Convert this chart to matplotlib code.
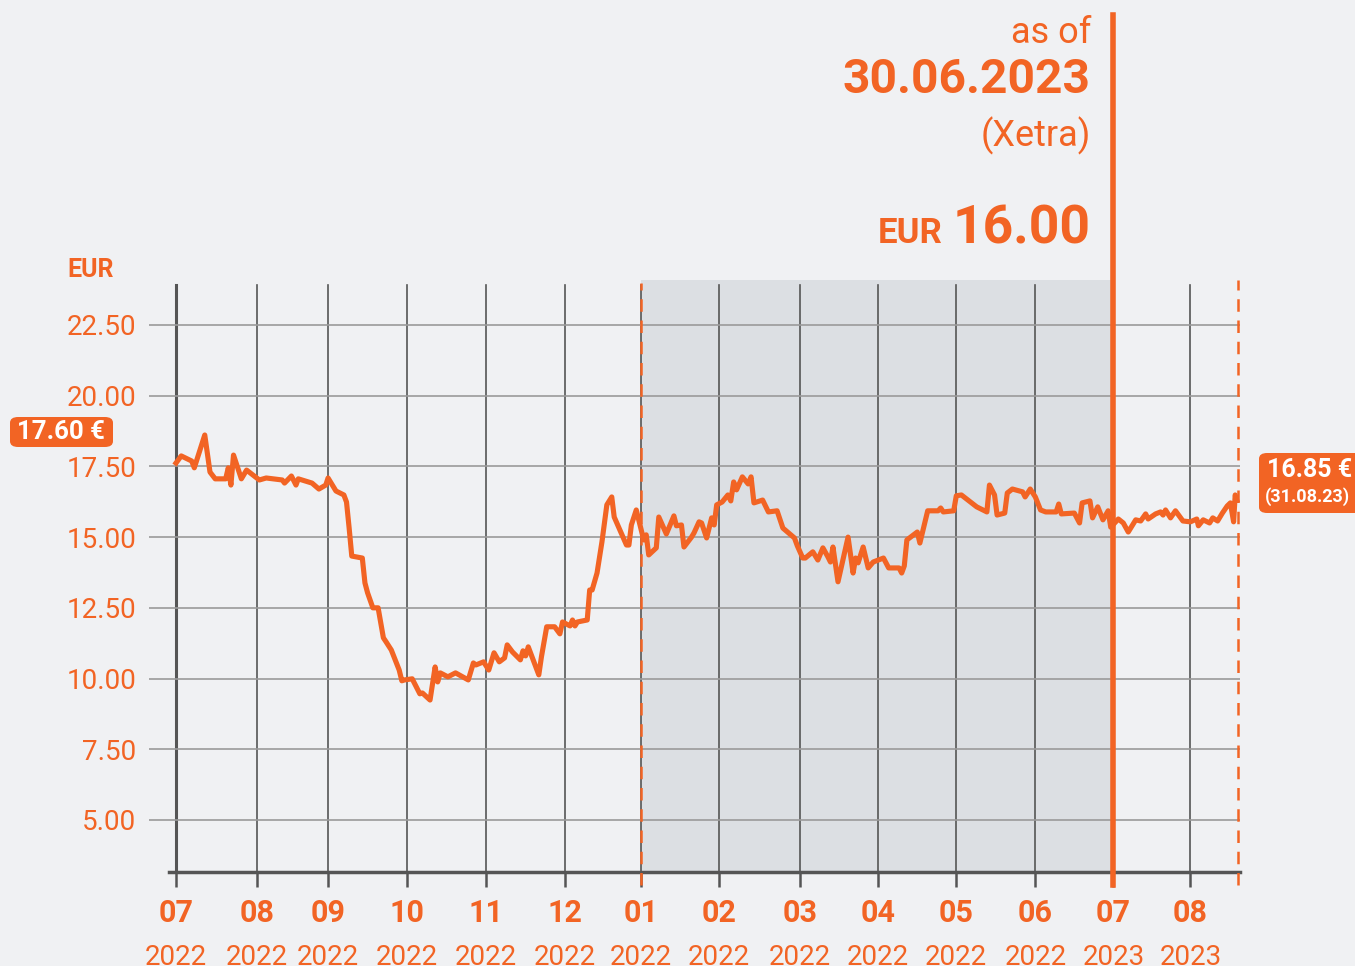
import matplotlib
matplotlib.use('Agg')
import matplotlib.pyplot as plt
import matplotlib.dates as mdates
from matplotlib.patches import FancyBboxPatch
import numpy as np
import pandas as pd

plt.rcParams['font.family'] = ['Roboto', 'DejaVu Sans']

ORANGE = '#f26424'
BG = '#f0f1f3'
SHADE = '#dcdfe3'
GRID_V = '#555555'
GRID_H = '#9a9a9a'

# price series (EUR)
dates = [
    '2022-07-01', '2022-07-03', '2022-07-07', '2022-07-08', '2022-07-12', '2022-07-14',
    '2022-07-16', '2022-07-20', '2022-07-21', '2022-07-22', '2022-07-23', '2022-07-26',
    '2022-07-28', '2022-08-02', '2022-08-05', '2022-08-12', '2022-08-13', '2022-08-16',
    '2022-08-18', '2022-08-19', '2022-08-25', '2022-08-28', '2022-08-31', '2022-09-01',
    '2022-09-04', '2022-09-07', '2022-09-08', '2022-09-09', '2022-09-10', '2022-09-14',
    '2022-09-15', '2022-09-16', '2022-09-18', '2022-09-20', '2022-09-22', '2022-09-23',
    '2022-09-25', '2022-09-28', '2022-09-29', '2022-09-30', '2022-10-03', '2022-10-06',
    '2022-10-07', '2022-10-10', '2022-10-12', '2022-10-13', '2022-10-14', '2022-10-17',
    '2022-10-20', '2022-10-25', '2022-10-27', '2022-10-28', '2022-10-31', '2022-11-02',
    '2022-11-04', '2022-11-06', '2022-11-08', '2022-11-09', '2022-11-11', '2022-11-14',
    '2022-11-15', '2022-11-16', '2022-11-17', '2022-11-21', '2022-11-22', '2022-11-24',
    '2022-11-27', '2022-11-29', '2022-11-30', '2022-12-03', '2022-12-04', '2022-12-05',
    '2022-12-06', '2022-12-10', '2022-12-11', '2022-12-12', '2022-12-14', '2022-12-16',
    '2022-12-18', '2022-12-20', '2022-12-21', '2022-12-26', '2022-12-27', '2022-12-28',
    '2022-12-30', '2023-01-02', '2023-01-03', '2023-01-04', '2023-01-07', '2023-01-08',
    '2023-01-11', '2023-01-14', '2023-01-15', '2023-01-17', '2023-01-18', '2023-01-21',
    '2023-01-22', '2023-01-24', '2023-01-25', '2023-01-27', '2023-01-29', '2023-01-30',
    '2023-01-31', '2023-02-02', '2023-02-04', '2023-02-05', '2023-02-06', '2023-02-07',
    '2023-02-09', '2023-02-11', '2023-02-12', '2023-02-13', '2023-02-16', '2023-02-18',
    '2023-02-21', '2023-02-23', '2023-02-27', '2023-02-28', '2023-03-02', '2023-03-03',
    '2023-03-06', '2023-03-08', '2023-03-10', '2023-03-12', '2023-03-13', '2023-03-14',
    '2023-03-16', '2023-03-20', '2023-03-22', '2023-03-23', '2023-03-24', '2023-03-26',
    '2023-03-28', '2023-03-30', '2023-04-03', '2023-04-05', '2023-04-09', '2023-04-10',
    '2023-04-11', '2023-04-12', '2023-04-16', '2023-04-17', '2023-04-20', '2023-04-24',
    '2023-04-25', '2023-04-26', '2023-04-30', '2023-05-01', '2023-05-03', '2023-05-07',
    '2023-05-09', '2023-05-13', '2023-05-14', '2023-05-16', '2023-05-17', '2023-05-20',
    '2023-05-21', '2023-05-23', '2023-05-27', '2023-05-28', '2023-05-30', '2023-06-01',
    '2023-06-03', '2023-06-05', '2023-06-09', '2023-06-10', '2023-06-11', '2023-06-16',
    '2023-06-18', '2023-06-19', '2023-06-22', '2023-06-23', '2023-06-25', '2023-06-27',
    '2023-06-29', '2023-06-30', '2023-07-03', '2023-07-05', '2023-07-07', '2023-07-10',
    '2023-07-12', '2023-07-14', '2023-07-15', '2023-07-18', '2023-07-20', '2023-07-21',
    '2023-07-22', '2023-07-24', '2023-07-26', '2023-07-29', '2023-08-01', '2023-08-05',
    '2023-08-06', '2023-08-09', '2023-08-13', '2023-08-15', '2023-08-18', '2023-08-21',
    '2023-08-24', '2023-08-26', '2023-08-28', '2023-08-29', '2023-08-30',
]
prices = [
    17.62, 17.87, 17.69, 17.45, 18.61, 17.30,
    17.06, 17.06, 17.45, 16.84, 17.90, 17.06,
    17.37, 17.02, 17.09, 17.02, 16.91, 17.16,
    16.84, 17.06, 16.91, 16.70, 16.84, 17.09,
    16.63, 16.49, 16.24, 15.32, 14.33, 14.26,
    13.38, 13.03, 12.50, 12.50, 11.44, 11.30,
    11.01, 10.30, 9.92, 9.95, 9.99, 9.46,
    9.49, 9.24, 10.41, 9.88, 10.20, 10.06,
    10.20, 9.95, 10.55, 10.48, 10.59, 10.30,
    10.91, 10.59, 10.73, 11.19, 10.94, 10.66,
    10.98, 10.80, 11.12, 10.13, 10.77, 11.83,
    11.83, 11.58, 12.00, 11.86, 12.07, 11.86,
    12.00, 12.07, 13.13, 13.13, 13.73, 14.83,
    16.14, 16.42, 15.71, 14.72, 14.72, 15.43,
    15.96, 14.90, 15.08, 14.37, 14.62, 15.71,
    15.11, 15.75, 15.40, 15.43, 14.65, 15.00,
    15.15, 15.54, 15.50, 14.97, 15.68, 15.43,
    16.14, 16.24, 16.49, 16.28, 16.95, 16.67,
    17.13, 16.88, 17.13, 16.21, 16.31, 15.89,
    15.93, 15.32, 14.97, 14.69, 14.26, 14.26,
    14.48, 14.19, 14.62, 14.30, 14.12, 14.65,
    13.42, 15.00, 13.73, 14.26, 14.09, 14.65,
    13.91, 14.12, 14.26, 13.91, 13.91, 13.73,
    13.98, 14.90, 15.18, 14.79, 15.93, 15.93,
    16.03, 15.89, 15.93, 16.46, 16.49, 16.21,
    16.07, 15.89, 16.84, 16.49, 15.78, 15.85,
    16.56, 16.70, 16.60, 16.42, 16.70, 16.42,
    15.96, 15.89, 15.89, 16.17, 15.82, 15.85,
    15.50, 16.21, 16.28, 15.68, 16.07, 15.61,
    15.93, 15.35, 15.64, 15.50, 15.18, 15.61,
    15.57, 15.82, 15.64, 15.82, 15.89, 15.78,
    15.96, 15.68, 15.93, 15.57, 15.54, 15.64,
    15.40, 15.61, 15.50, 15.68, 15.57, 15.85,
    16.10, 16.21, 15.54, 16.49, 16.30,
]

month_starts = pd.date_range('2022-07-01', '2023-08-01', freq='MS')
month_labels = ['07', '08', '09', '10', '11', '12', '01', '02', '03', '04', '05', '06', '07', '08']
year_labels = ['2022'] * 12 + ['2023'] * 2
y_ticks = [5.0, 7.5, 10.0, 12.5, 15.0, 17.5, 20.0, 22.5]

period_start = pd.Timestamp('2023-01-01')
period_end = pd.Timestamp('2023-07-01')
last_day = pd.Timestamp('2023-08-31')

# the source chart's time axis is not calendar-linear: relative width of each month
scale_anchors = pd.date_range('2022-06-01', '2023-09-01', freq='MS')
month_widths = [81, 81, 71, 79, 79, 79, 76, 78, 81, 78, 78, 79, 78, 77, 49.6]

W, H = 1355, 966


def fx(px):
    return px / W


def fy(py):
    return 1 - py / H


anchor_nums = mdates.date2num(scale_anchors)
anchor_pos = np.concatenate([[0.0], np.cumsum(month_widths)])


def fwd(v):
    return np.interp(v, anchor_nums, anchor_pos, left=np.nan, right=np.nan)


def inv(v):
    return np.interp(v, anchor_pos, anchor_nums)


fig = plt.figure(figsize=(W / 100, H / 100), dpi=100, facecolor=BG)
ax = fig.add_axes([fx(149), fy(872), fx(1240) - fx(149), fy(280) - fy(872)])
ax.set_facecolor(BG)
for s in ax.spines.values():
    s.set_visible(False)

x = pd.to_datetime(dates)
ax.plot(x, prices, color=ORANGE, lw=3.7, zorder=5, solid_joinstyle='round')
ax.set_xscale('function', functions=(fwd, inv))
ax.set_xlim(pd.Timestamp('2022-06-21'), pd.Timestamp('2023-09-01'))
ax.set_ylim(3.16, 24.09)

# shaded half year
ax.axvspan(period_start, period_end, color=SHADE, zorder=0, lw=0)

# horizontal grid
ax.set_yticks(y_ticks)
ax.set_yticklabels(['%.2f' % v for v in y_ticks])
ax.grid(axis='y', color=GRID_H, lw=1.2, zorder=1)
ax.tick_params(axis='y', length=0, pad=9, labelsize=20, labelcolor=ORANGE)

# vertical month lines + tick marks
ax.set_xticks(month_starts)
ax.set_xticklabels([])
ax.xaxis.set_minor_locator(matplotlib.ticker.NullLocator())
ax.tick_params(axis='x', direction='out', length=11, width=1.8, color=GRID_V)
for i, d in enumerate(month_starts):
    ax.axvline(d, ymin=0, ymax=0.992, color=GRID_V,
               lw=2.2 if i == 0 else 1.2, zorder=1)
    ax.text(d, -0.07, month_labels[i], transform=ax.get_xaxis_transform(),
            ha='center', va='center', fontsize=22, fontweight='bold', color=ORANGE)
    ax.text(d, -0.145, year_labels[i], transform=ax.get_xaxis_transform(),
            ha='center', va='center', fontsize=20, color=ORANGE)

ax.axhline(3.16, xmin=20 / 1091, xmax=1, color=GRID_V, lw=2.5, zorder=2, clip_on=False)

# marker lines
ax.axvline(period_start, ymin=-0.022, ymax=0.995, color=ORANGE, lw=1.8,
           dashes=(5, 3.5), zorder=3, clip_on=False)
ax.axvline(last_day, ymin=-0.022, ymax=1.0, color=ORANGE, lw=1.8,
           dashes=(5, 3.5), zorder=3, clip_on=False)
ax.axvline(period_end, ymin=-0.022, ymax=1.448, color=ORANGE, lw=4,
           zorder=4, clip_on=False)

# texts
fig.text(fx(67), fy(277), 'EUR', fontsize=18, fontweight='bold', color=ORANGE,
         ha='left', va='baseline')
fig.text(fx(1091), fy(43), 'as of', fontsize=26, color=ORANGE, ha='right', va='baseline')
fig.text(fx(1091), fy(93), '30.06.2023', fontsize=34.5, fontweight='bold', color=ORANGE,
         ha='right', va='baseline')
fig.text(fx(1091), fy(146), '(Xetra)', fontsize=26, color=ORANGE, ha='right', va='baseline')
fig.text(fx(1091), fy(243), '16.00', fontsize=38.5, fontweight='bold', color=ORANGE,
         ha='right', va='baseline')
fig.text(fx(943), fy(243), 'EUR', fontsize=25, fontweight='bold', color=ORANGE,
         ha='right', va='baseline')

# badges
fig.patches.append(FancyBboxPatch((fx(10), fy(447)), fx(113) - fx(10), fy(417) - fy(447),
                                  boxstyle='round,pad=0,rounding_size=0.006',
                                  transform=fig.transFigure, fc=ORANGE, ec='none'))
fig.text(fx(61), fy(432), '17.60 €', fontsize=18.5, fontweight='bold', color='white',
         ha='center', va='center')

fig.patches.append(FancyBboxPatch((fx(1259), fy(513)), fx(1370) - fx(1259), fy(453) - fy(513),
                                  boxstyle='round,pad=0,rounding_size=0.006',
                                  transform=fig.transFigure, fc=ORANGE, ec='none'))
fig.text(fx(1310), fy(470), '16.85 €', fontsize=18, fontweight='bold', color='white',
         ha='center', va='center')
fig.text(fx(1307), fy(497), '(31.08.23)', fontsize=13, fontweight='bold', color='white',
         ha='center', va='center')

fig.savefig('out.png', dpi=100, facecolor=BG)
